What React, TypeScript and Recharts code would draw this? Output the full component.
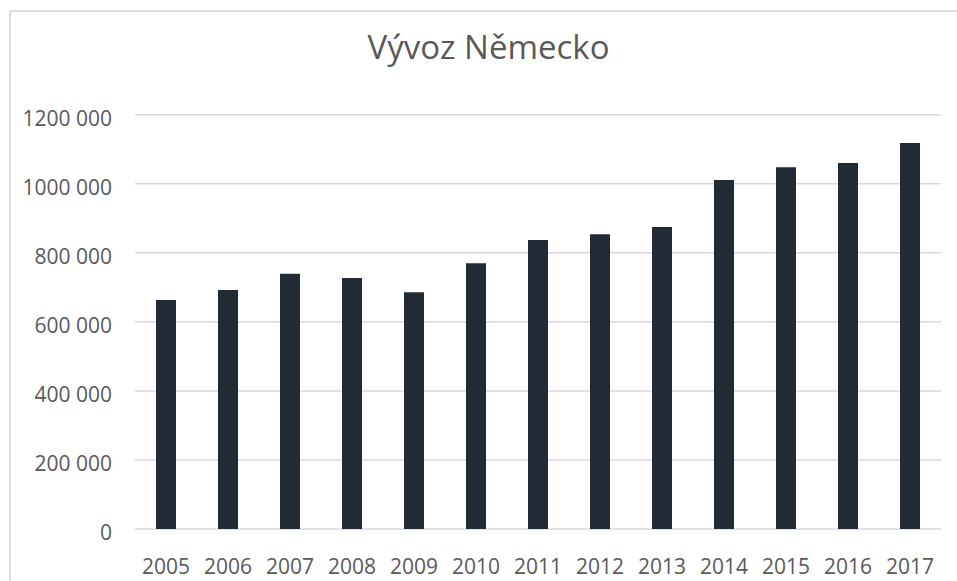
import { BarChart, Bar, XAxis, YAxis, CartesianGrid } from "recharts";

const years = [
  "2005", "2006", "2007", "2008", "2009", "2010", "2011",
  "2012", "2013", "2014", "2015", "2016", "2017",
];

const exportValues = [
  663000, 692000, 739000, 727000, 686000, 770000, 837000,
  854000, 875000, 1011000, 1048000, 1060000, 1118000,
];

const yTicks = [0, 200000, 400000, 600000, 800000, 1000000, 1200000];

const data = years.map((year, i) => ({ year, value: exportValues[i] }));

const FONT = "'Open Sans', sans-serif";
const TEXT = "#595959";

// excel style "1200 000"
function formatValue(v: number) {
  if (v === 0) return "0";
  const thousands = Math.floor(v / 1000);
  const rest = String(v % 1000).padStart(3, "0");
  return `${thousands} ${rest}`;
}

function YTick({ x, y, payload }: any) {
  return (
    <text
      x={112}
      y={y + 11}
      textAnchor="end"
      fill={TEXT}
      fontSize={21}
      fontFamily={FONT}
    >
      {formatValue(payload.value)}
    </text>
  );
}

export default function App() {
  return (
    <div
      style={{
        position: "absolute",
        left: 0,
        top: 0,
        width: 957,
        height: 581,
        overflow: "hidden",
        background: "#fff",
      }}
    >
      {/* chart frame */}
      <div
        style={{
          position: "absolute",
          left: 9,
          top: 10,
          width: 1000,
          height: 700,
          borderLeft: "2px solid #dcdcdc",
          borderTop: "2px solid #dcdcdc",
        }}
      />

      {/* TITLE */}
      <div
        style={{
          position: "absolute",
          left: 0,
          width: 977,
          top: 22,
          textAlign: "center",
          fontFamily: FONT,
          fontSize: 33,
          color: TEXT,
          lineHeight: "50px",
        }}
      >
        Vývoz Německo
      </div>

      <div style={{ position: "absolute", left: 0, top: 0 }}>
        <BarChart
          width={957}
          height={581}
          data={data}
          margin={{ top: 114.7, right: 16, bottom: 0, left: 0 }}
        >
          <CartesianGrid
            vertical={false}
            stroke="#d9d9d9"
            strokeWidth={1.5}
          />
          <XAxis
            dataKey="year"
            height={52}
            axisLine={false}
            tickLine={false}
            tickSize={0}
            tickMargin={30}
            tick={{ fill: TEXT, fontSize: 21, fontFamily: FONT }}
            interval={0}
          />
          <YAxis
            width={135}
            domain={[0, 1200000]}
            ticks={yTicks}
            axisLine={false}
            tickLine={false}
            tickSize={0}
            tick={<YTick />}
            interval={0}
          />
          <Bar
            dataKey="value"
            fill="#222a35"
            barSize={20}
            isAnimationActive={false}
          />
        </BarChart>
      </div>
    </div>
  );
}
